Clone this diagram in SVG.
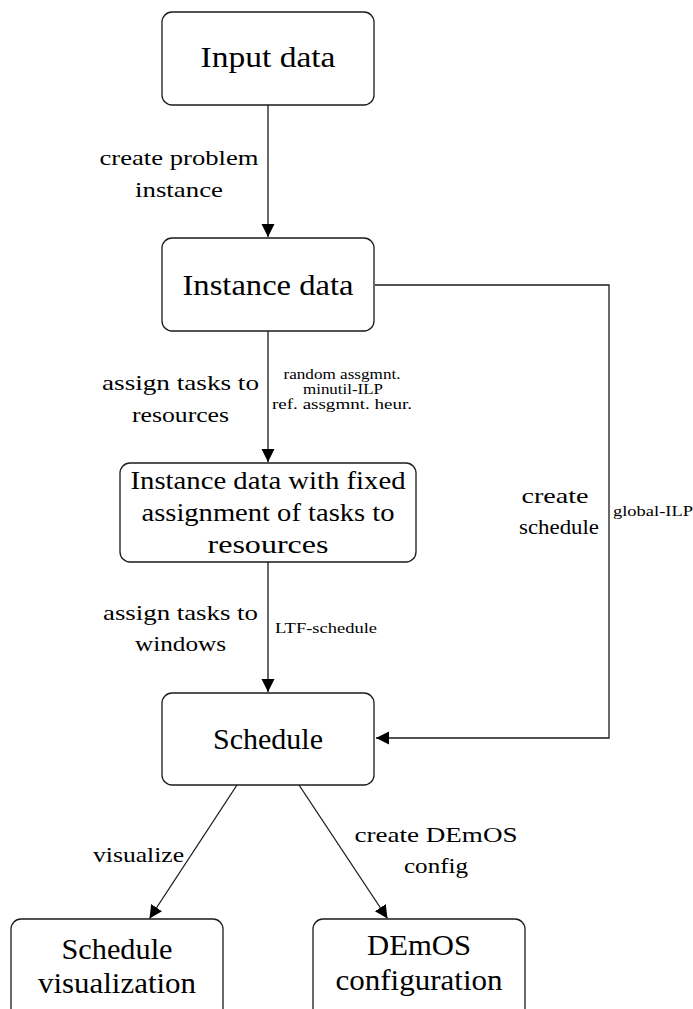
<svg xmlns="http://www.w3.org/2000/svg" width="693" height="1009" viewBox="0 0 693 1009" font-family="'Liberation Serif', 'DejaVu Serif', serif">
<defs>
<marker id="arr" markerUnits="userSpaceOnUse" markerWidth="14" markerHeight="14" refX="13" refY="6.5" orient="auto">
<path d="M0,0 L13,6.5 L0,13 Z" fill="#000"/>
</marker>
<style>
.box{fill:#fff;stroke:#1a1a1a;stroke-width:1.3}
.edge{fill:none;stroke:#1a1a1a;stroke-width:1.3;marker-end:url(#arr)}
svg text{font-family:'Liberation Serif','DejaVu Serif',serif;fill:#000}
.big{font-size:29px;text-anchor:middle}
.med{font-size:25px;text-anchor:middle}
.lab{font-size:22px;text-anchor:middle}
.sm{font-size:14px}
.smc{font-size:14px;text-anchor:middle}
</style>
</defs>
<rect width="693" height="1009" fill="#fff"/>
<g id="connectors">
<path class="edge" d="M268,105 V237"/>
<path class="edge" d="M268,331 V462"/>
<path class="edge" d="M268,562 V692"/>
<path class="edge" d="M375,285 H609 V738 H376"/>
<path class="edge" d="M237,785 L149.5,918.5"/>
<path class="edge" d="M299,785 L387.5,918.5"/>
<text class="lab" x="179" y="165" textLength="159" lengthAdjust="spacingAndGlyphs">create problem</text>
<text class="lab" x="179" y="197" textLength="88" lengthAdjust="spacingAndGlyphs">instance</text>
<text class="lab" x="180.5" y="390" textLength="157" lengthAdjust="spacingAndGlyphs">assign tasks to</text>
<text class="lab" x="180.5" y="422" textLength="97" lengthAdjust="spacingAndGlyphs">resources</text>
<text class="smc" x="342" y="379" textLength="117" lengthAdjust="spacingAndGlyphs">random assgmnt.</text>
<text class="smc" x="343" y="394" textLength="80" lengthAdjust="spacingAndGlyphs">minutil-ILP</text>
<text class="smc" x="342" y="409" textLength="140" lengthAdjust="spacingAndGlyphs">ref. assgmnt. heur.</text>
<text class="lab" x="180.5" y="620" textLength="155" lengthAdjust="spacingAndGlyphs">assign tasks to</text>
<text class="lab" x="180.5" y="651" textLength="91" lengthAdjust="spacingAndGlyphs">windows</text>
<text class="sm" x="275" y="633" textLength="102" lengthAdjust="spacingAndGlyphs">LTF-schedule</text>
<text class="lab" x="555" y="503" textLength="67" lengthAdjust="spacingAndGlyphs">create</text>
<text class="lab" x="559" y="534" textLength="80" lengthAdjust="spacingAndGlyphs">schedule</text>
<text class="sm" x="613" y="516" textLength="80" lengthAdjust="spacingAndGlyphs">global-ILP</text>
<text class="lab" x="138.5" y="862" textLength="91" lengthAdjust="spacingAndGlyphs">visualize</text>
<text class="lab" x="436" y="842" textLength="163" lengthAdjust="spacingAndGlyphs">create DEmOS</text>
<text class="lab" x="436" y="873" textLength="64" lengthAdjust="spacingAndGlyphs">config</text>
</g>
<g id="n-input">
<rect class="box" x="162" y="12" width="212" height="93" rx="10"/>
<text class="big" x="268" y="67" textLength="135" lengthAdjust="spacingAndGlyphs">Input data</text>
</g>
<g id="n-instance">
<rect class="box" x="162" y="238" width="212" height="93" rx="10"/>
<text class="big" x="268" y="295" textLength="171" lengthAdjust="spacingAndGlyphs">Instance data</text>
</g>
<g id="n-fixed">
<rect class="box" x="120" y="463" width="296" height="99" rx="10"/>
<text class="med" x="268" y="489" textLength="275" lengthAdjust="spacingAndGlyphs">Instance data with fixed</text>
<text class="med" x="268" y="521" textLength="253" lengthAdjust="spacingAndGlyphs">assignment of tasks to</text>
<text class="med" x="268" y="553" textLength="121" lengthAdjust="spacingAndGlyphs">resources</text>
</g>
<g id="n-schedule">
<rect class="box" x="162" y="693" width="212" height="92" rx="10"/>
<text class="big" x="268" y="749" textLength="110" lengthAdjust="spacingAndGlyphs">Schedule</text>
</g>
<g id="n-vis">
<rect class="box" x="11" y="919" width="212" height="110" rx="10"/>
<text class="big" x="117" y="959" textLength="111" lengthAdjust="spacingAndGlyphs">Schedule</text>
<text class="big" x="117" y="993" textLength="158" lengthAdjust="spacingAndGlyphs">visualization</text>
</g>
<g id="n-demos">
<rect class="box" x="313" y="919" width="212" height="110" rx="10"/>
<text class="big" x="419" y="955" textLength="104" lengthAdjust="spacingAndGlyphs">DEmOS</text>
<text class="big" x="419" y="990" textLength="167" lengthAdjust="spacingAndGlyphs">configuration</text>
</g>
</svg>
